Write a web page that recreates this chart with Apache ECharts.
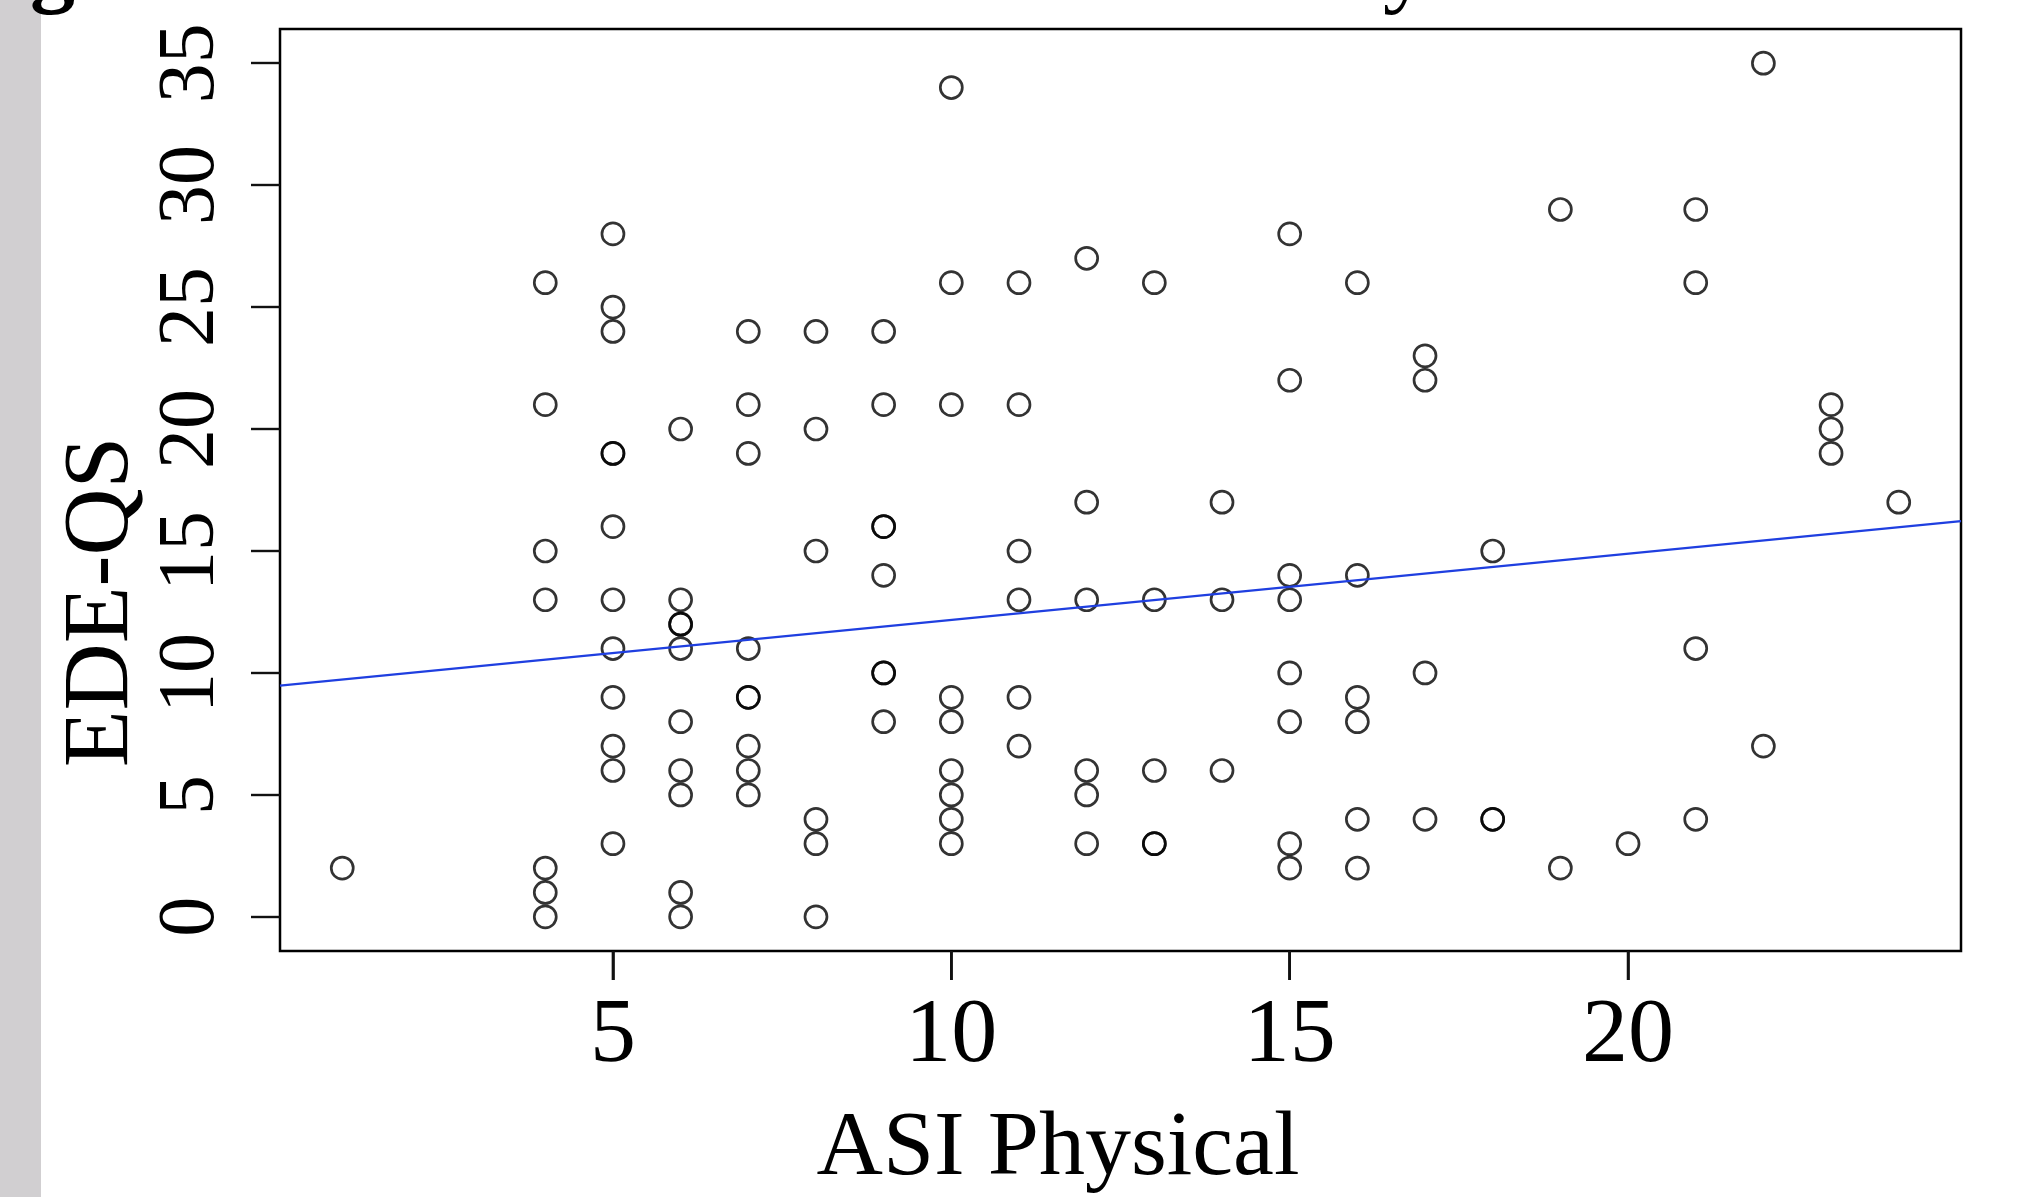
<!DOCTYPE html>
<html>
<head>
<meta charset="utf-8">
<script src="https://cdn.jsdelivr.net/npm/echarts@6/dist/echarts.min.js"></script>
<style>
  html, body { margin: 0; padding: 0; background: #fff; }
  #chart { width: 2020px; height: 1197px; }
</style>
</head>
<body>
<div id="chart"></div>
<script>
const FONT = '"Liberation Serif", "Times New Roman", serif'

// ASI Physical score levels and the EDE-QS scores seen at each level
const asiLevels = [1, 4, 5, 6, 7, 8, 9, 10, 11, 12, 13, 14, 15, 16, 17, 18, 19, 20, 21, 22, 23, 24]
const edeByLevel = [
  [2],
  [26, 21, 15, 13, 2, 1, 0],
  [28, 25, 24, 19, 19, 16, 13, 11, 9, 7, 6, 3],
  [20, 13, 12, 12, 11, 8, 6, 5, 1, 0],
  [24, 21, 19, 11, 9, 9, 7, 6, 5],
  [24, 20, 15, 4, 3, 0],
  [24, 21, 16, 16, 14, 10, 10, 8],
  [34, 26, 21, 9, 8, 6, 5, 4, 3],
  [26, 21, 15, 13, 9, 7],
  [27, 17, 13, 6, 5, 3],
  [26, 13, 6, 3, 3],
  [17, 13, 6],
  [28, 22, 14, 13, 10, 8, 3, 2],
  [26, 14, 9, 8, 4, 2],
  [23, 22, 10, 4],
  [15, 4, 4],
  [29, 2],
  [3],
  [29, 26, 11, 4],
  [35, 7],
  [21, 20, 19],
  [17],
]

const xTicks = [5, 10, 15, 20]
const yTicks = [0, 5, 10, 15, 20, 25, 30, 35]
const xRange = [0.08, 24.92]
const yRange = [-1.4, 36.4]

// fitted line
const fitIntercept = 9.46
const fitSlope = 0.2715

const TICK_LEN = 29

const points = []
asiLevels.forEach((x, i) => {
  edeByLevel[i].forEach((y) => points.push([x, y]))
})
const fitLine = xRange.map((x) => [x, fitIntercept + fitSlope * x])

const baseGraphic = [
  { type: 'rect', left: 0, top: 0, shape: { width: 41, height: 1197 }, style: { fill: '#d1cfd1' }, z: 100 },
  {
    type: 'text',
    x: 1058,
    y: 1150,
    style: { text: 'ASI Physical', font: '92px ' + FONT, fill: '#000', textAlign: 'center', textVerticalAlign: 'middle' },
  },
  {
    type: 'text',
    x: 103,
    y: 602,
    rotation: Math.PI / 2,
    style: { text: 'EDE-QS', font: '93px ' + FONT, fill: '#000', textAlign: 'center', textVerticalAlign: 'middle' },
  },
  { type: 'text', x: 30, y: 18, style: { text: 'g', font: 'bold 90px ' + FONT, fill: '#000', textAlign: 'left', textVerticalAlign: 'bottom' }, z: 101 },
  { type: 'text', x: 1383, y: 18, style: { text: 'y', font: '92px ' + FONT, fill: '#000', textAlign: 'left', textVerticalAlign: 'bottom' } },
]

const chart = echarts.init(document.getElementById('chart'))

chart.setOption({
  animation: false,
  backgroundColor: '#fff',
  grid: {
    show: true,
    left: 280,
    right: 59,
    top: 29,
    bottom: 246,
    borderColor: '#000',
    borderWidth: 2.5,
    backgroundColor: '#fff',
  },
  xAxis: {
    type: 'value',
    min: xRange[0],
    max: xRange[1],
    axisLine: { show: false, onZero: false },
    splitLine: { show: false },
    axisTick: {
      show: true,
      inside: false,
      length: TICK_LEN,
      customValues: xTicks,
      lineStyle: { color: '#111', width: 2.6 },
    },
    axisLabel: {
      customValues: xTicks,
      margin: 40,
      color: '#000',
      fontFamily: FONT,
      fontSize: 92,
    },
  },
  yAxis: {
    type: 'value',
    min: yRange[0],
    max: yRange[1],
    axisLine: { show: false, onZero: false },
    splitLine: { show: false },
    axisTick: {
      show: true,
      inside: false,
      length: TICK_LEN,
      customValues: yTicks,
      lineStyle: { color: '#111', width: 2.4 },
    },
    axisLabel: {
      customValues: yTicks,
      rotate: 90,
      margin: 48,
      color: '#000',
      fontFamily: FONT,
      fontSize: 80,
    },
  },
  graphic: baseGraphic,
  series: [
    {
      type: 'scatter',
      data: points,
      symbol: 'circle',
      symbolSize: 22,
      itemStyle: { color: 'rgba(0,0,0,0)', borderColor: '#000', borderWidth: 2.7 },
      emphasis: { disabled: true },
    },
    {
      type: 'line',
      data: fitLine,
      showSymbol: false,
      lineStyle: { color: '#1f3fe0', width: 2.4 },
      emphasis: { disabled: true },
      z: 3,
    },
  ],
})

// x-axis tick marks again through the axis scale, so they show even if the axis skips them
const yBottom = chart.convertToPixel({ yAxisIndex: 0 }, yRange[0])
const xTickMarks = xTicks.map((v) => {
  const px = chart.convertToPixel({ xAxisIndex: 0 }, v)
  return {
    type: 'rect',
    shape: { x: px - 1.3, y: yBottom, width: 2.6, height: TICK_LEN },
    style: { fill: '#111' },
    z: 50,
  }
})
chart.setOption({ graphic: baseGraphic.concat(xTickMarks) })
</script>
</body>
</html>
